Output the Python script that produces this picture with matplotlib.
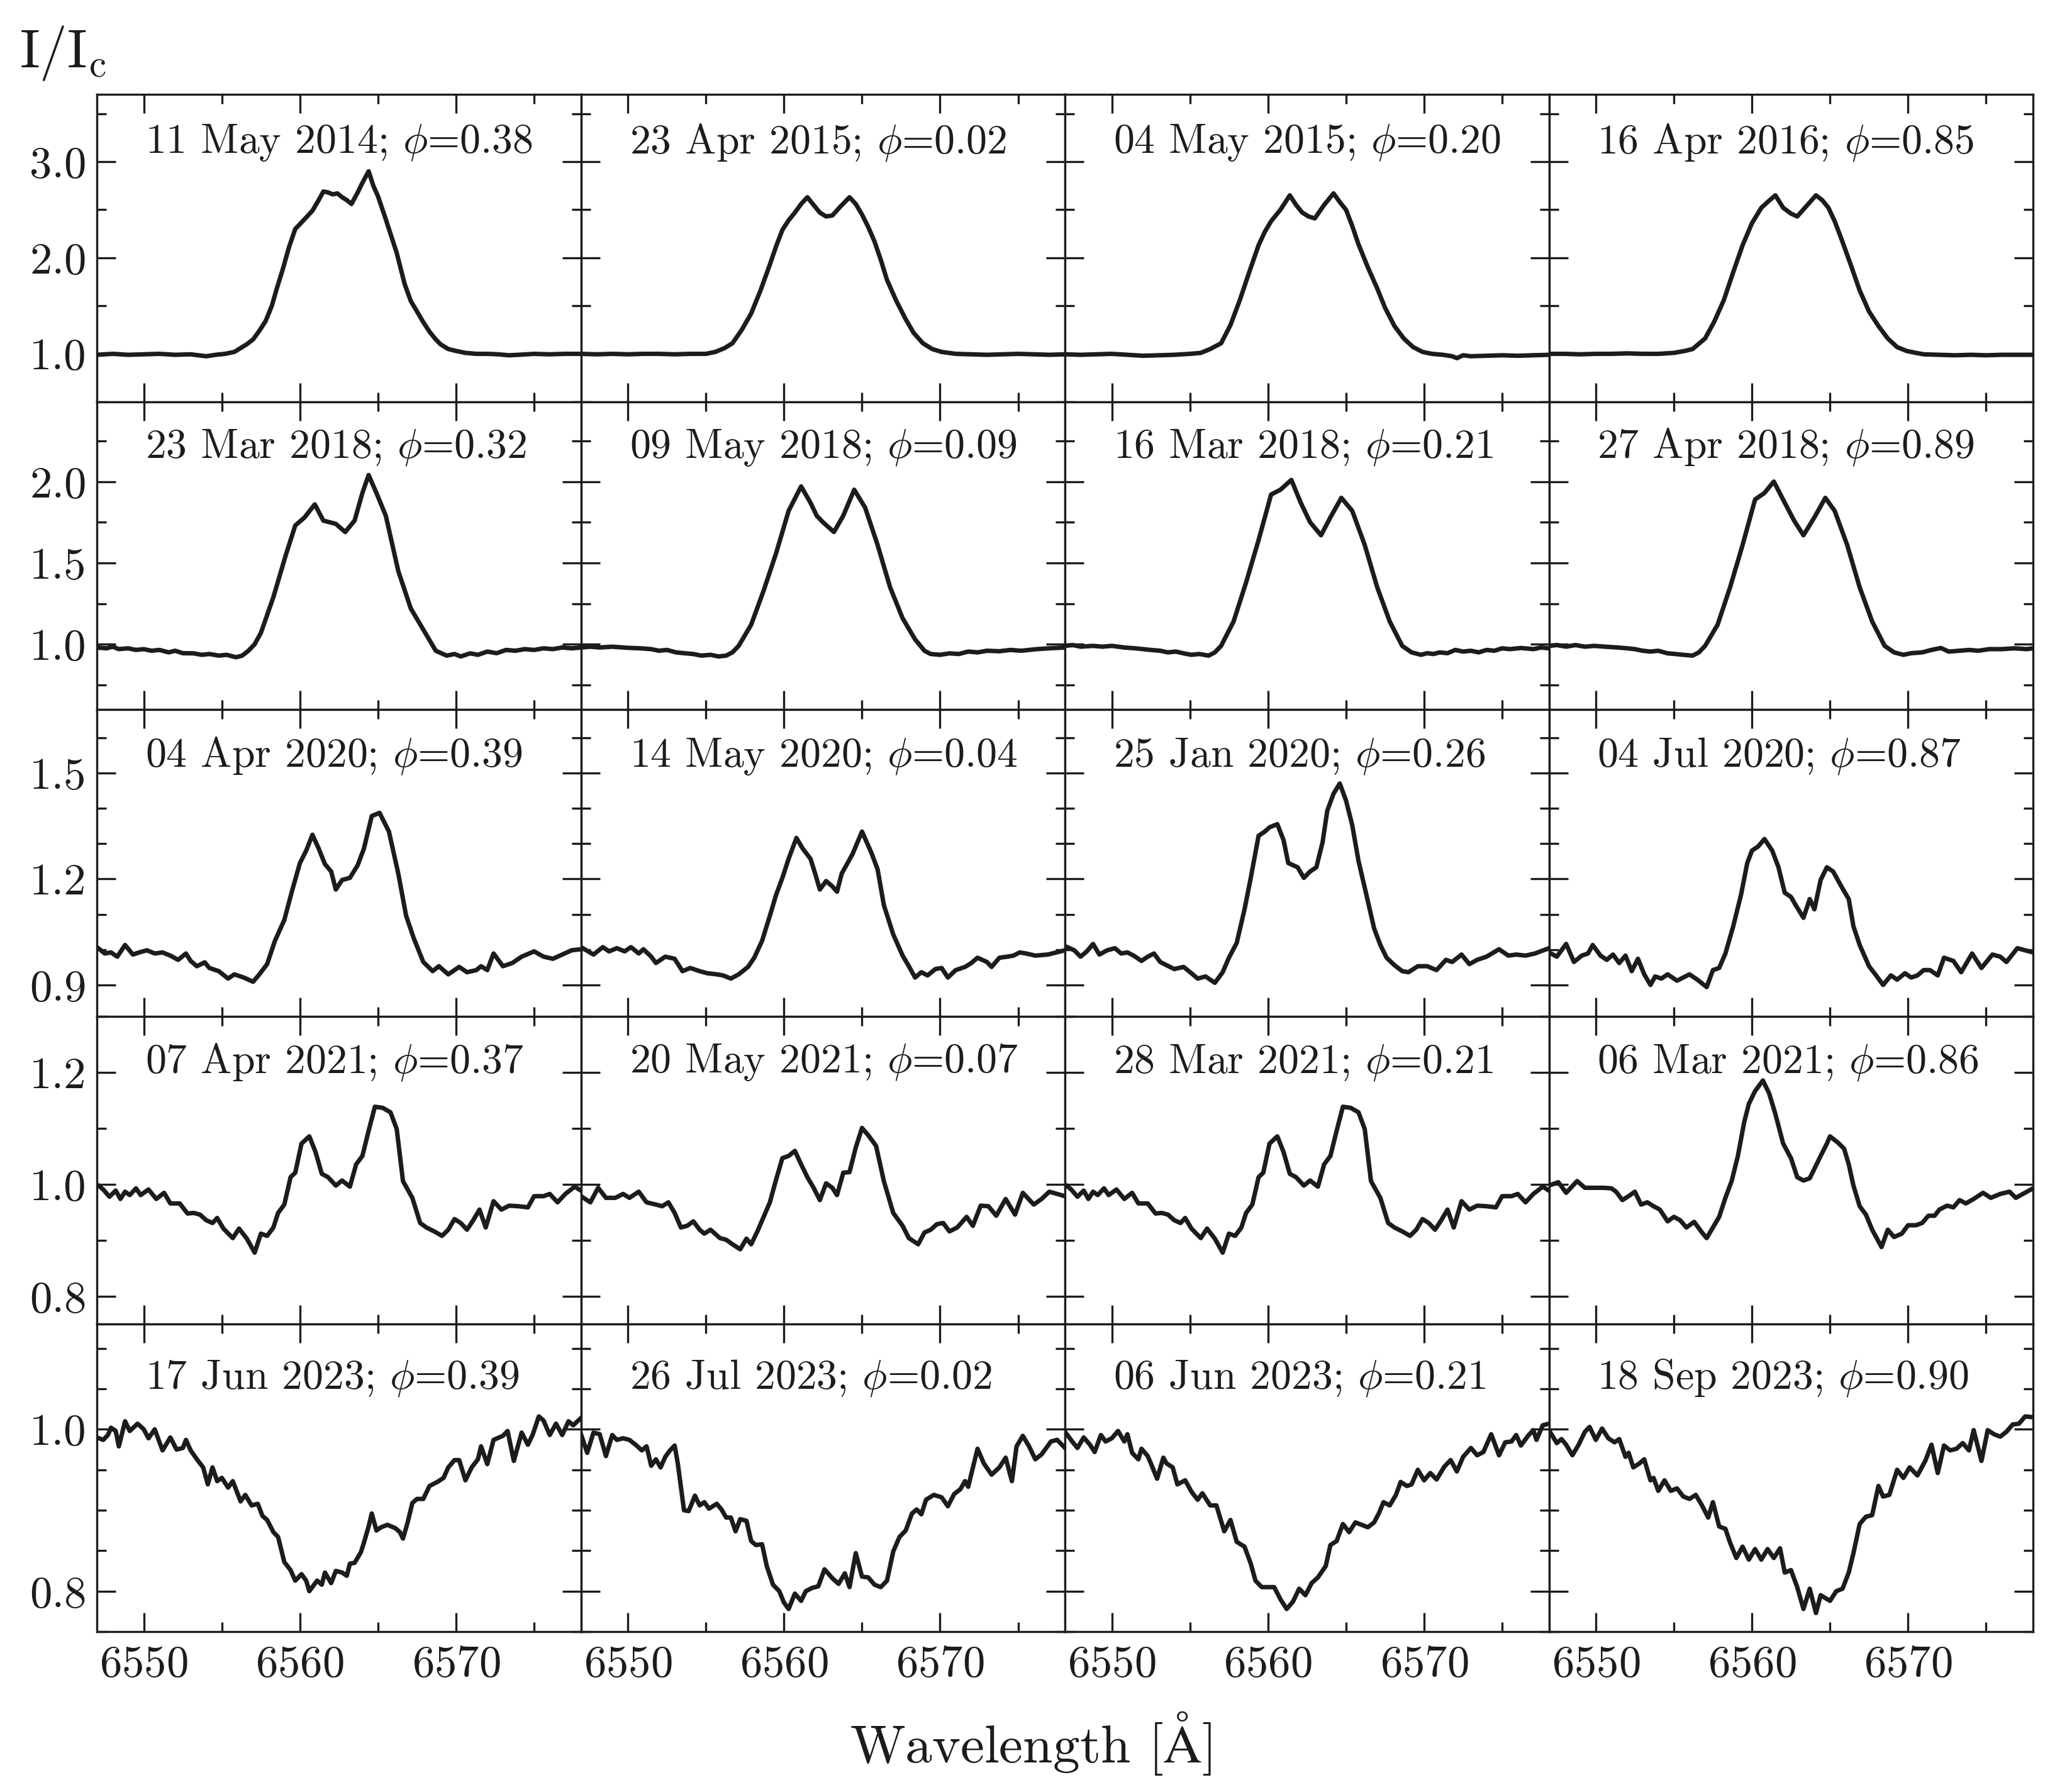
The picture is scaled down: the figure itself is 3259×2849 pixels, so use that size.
import numpy as np
import matplotlib
matplotlib.use("Agg")
import matplotlib.pyplot as plt
from matplotlib.ticker import MultipleLocator, FormatStrFormatter

plt.rcParams['font.family'] = 'serif'
plt.rcParams['font.serif'] = ['cmr10']
plt.rcParams['mathtext.fontset'] = 'cm'
plt.rcParams['axes.formatter.use_mathtext'] = True

# ---------------- data ----------------
# Row 1
w_11may2014 = [6547.0, 6548.0, 6549.0, 6550.0, 6551.0, 6552.0, 6553.0, 6554.0, 6554.6, 6555.2, 6555.8, 6556.2, 6556.6, 6557.0, 6557.4, 6557.8, 6558.2, 6558.5, 6558.9, 6559.3, 6559.7, 6560.0, 6560.4, 6560.8, 6561.2, 6561.5, 6561.8, 6562.1, 6562.4, 6562.7, 6563.0, 6563.3, 6563.7, 6564.0, 6564.4, 6564.7, 6565.0, 6565.5, 6565.8, 6566.2, 6566.7, 6567.1, 6567.5, 6567.9, 6568.3, 6568.7, 6569.0, 6569.5, 6570.0, 6570.6, 6571.3, 6572.0, 6572.7, 6573.4, 6574.0, 6575.0, 6576.0, 6577.0, 6578.0]
f_11may2014 = [0.99, 1.0, 0.99, 0.995, 1.0, 0.99, 0.995, 0.975, 0.99, 1.0, 1.02, 1.06, 1.10, 1.15, 1.24, 1.34, 1.50, 1.67, 1.88, 2.11, 2.30, 2.35, 2.42, 2.49, 2.60, 2.69, 2.68, 2.66, 2.67, 2.63, 2.60, 2.56, 2.68, 2.78, 2.90, 2.75, 2.64, 2.40, 2.25, 2.05, 1.73, 1.55, 1.44, 1.33, 1.23, 1.15, 1.10, 1.05, 1.03, 1.01, 1.0, 1.0, 0.995, 0.985, 0.99, 1.0, 0.995, 1.0, 1.0]

w_23apr2015 = [6547.0, 6548.0, 6549.0, 6550.0, 6551.0, 6552.0, 6553.0, 6554.0, 6555.0, 6555.6, 6556.2, 6556.7, 6557.3, 6557.9, 6558.5, 6559.1, 6559.5, 6559.9, 6560.3, 6560.7, 6561.1, 6561.5, 6561.9, 6562.3, 6562.7, 6563.1, 6563.6, 6564.2, 6564.6, 6565.0, 6565.4, 6565.8, 6566.2, 6566.6, 6567.2, 6567.8, 6568.3, 6568.9, 6569.5, 6570.1, 6571.0, 6572.0, 6573.0, 6574.0, 6575.0, 6576.0, 6577.0, 6578.0]
f_23apr2015 = [1.0, 0.995, 1.0, 0.995, 1.0, 1.0, 0.995, 1.0, 1.0, 1.02, 1.06, 1.11, 1.25, 1.42, 1.66, 1.93, 2.12, 2.29, 2.39, 2.47, 2.56, 2.63, 2.55, 2.47, 2.43, 2.44, 2.53, 2.63, 2.56, 2.45, 2.32, 2.17, 1.98, 1.77, 1.55, 1.36, 1.22, 1.11, 1.05, 1.02, 1.0, 0.995, 0.99, 0.995, 1.0, 0.995, 0.99, 0.995]

w_04may2015 = [6547.0, 6548.0, 6549.0, 6550.0, 6551.0, 6552.0, 6553.0, 6554.0, 6555.0, 6555.7, 6556.3, 6557.0, 6557.6, 6558.2, 6558.8, 6559.4, 6559.8, 6560.2, 6560.8, 6561.4, 6561.8, 6562.2, 6562.6, 6563.0, 6563.6, 6564.2, 6564.6, 6565.0, 6565.4, 6565.8, 6566.4, 6567.0, 6567.5, 6568.1, 6568.7, 6569.3, 6569.9, 6570.5, 6571.2, 6571.8, 6572.1, 6572.5, 6573.0, 6574.0, 6575.0, 6576.0, 6577.0, 6578.0]
f_04may2015 = [0.995, 0.99, 0.995, 1.0, 0.99, 0.98, 0.985, 0.99, 1.0, 1.01, 1.05, 1.11, 1.30, 1.56, 1.85, 2.13, 2.27, 2.38, 2.50, 2.65, 2.55, 2.47, 2.43, 2.41, 2.55, 2.67, 2.58, 2.50, 2.33, 2.14, 1.90, 1.68, 1.48, 1.29, 1.16, 1.07, 1.02, 1.0, 0.99, 0.975, 0.955, 0.985, 0.975, 0.98, 0.985, 0.98, 0.985, 0.99]

w_16apr2016 = [6547.0, 6548.0, 6549.0, 6550.0, 6551.0, 6552.0, 6553.0, 6554.0, 6555.0, 6555.7, 6556.2, 6557.0, 6557.6, 6558.2, 6558.8, 6559.4, 6560.0, 6560.6, 6561.0, 6561.5, 6562.0, 6562.5, 6562.9, 6563.5, 6564.1, 6564.5, 6564.9, 6565.3, 6565.7, 6566.3, 6566.9, 6567.5, 6568.1, 6568.7, 6569.3, 6569.9, 6570.5, 6571.0, 6572.0, 6573.0, 6574.0, 6575.0, 6576.0, 6577.0, 6578.0]
f_16apr2016 = [1.0, 1.0, 0.995, 1.0, 1.0, 1.005, 1.0, 1.0, 1.01, 1.03, 1.05, 1.16, 1.34, 1.56, 1.85, 2.13, 2.36, 2.52, 2.58, 2.65, 2.52, 2.46, 2.43, 2.54, 2.65, 2.60, 2.52, 2.38, 2.21, 1.94, 1.66, 1.44, 1.29, 1.16, 1.07, 1.03, 1.01, 0.995, 0.99, 0.985, 0.99, 0.985, 0.99, 0.99, 0.99]

# Row 2
w_23mar2018 = [6547.0, 6547.6, 6548.0, 6548.4, 6549.0, 6549.5, 6550.0, 6550.5, 6551.0, 6551.6, 6552.0, 6552.5, 6553.2, 6553.7, 6554.2, 6554.8, 6555.3, 6555.9, 6556.3, 6556.7, 6557.1, 6557.5, 6558.3, 6559.1, 6559.7, 6560.3, 6560.95, 6561.5, 6561.9, 6562.3, 6562.9, 6563.5, 6564.0, 6564.4, 6564.9, 6565.5, 6566.3, 6567.1, 6567.9, 6568.7, 6569.4, 6569.9, 6570.3, 6570.9, 6571.4, 6572.0, 6572.6, 6573.2, 6573.8, 6574.4, 6575.0, 6575.6, 6576.2, 6576.8, 6577.4, 6578.0]
f_23mar2018 = [0.98, 0.975, 0.985, 0.97, 0.975, 0.965, 0.97, 0.96, 0.965, 0.95, 0.96, 0.945, 0.944, 0.935, 0.94, 0.93, 0.935, 0.92, 0.93, 0.96, 1.0, 1.07, 1.29, 1.55, 1.73, 1.78, 1.86, 1.76, 1.75, 1.74, 1.69, 1.76, 1.93, 2.04, 1.93, 1.79, 1.45, 1.22, 1.09, 0.96, 0.93, 0.94, 0.925, 0.944, 0.935, 0.955, 0.945, 0.965, 0.96, 0.97, 0.965, 0.975, 0.97, 0.98, 0.975, 0.98]

w_09may2018 = [6547.0, 6547.6, 6548.2, 6549.0, 6550.0, 6550.8, 6551.5, 6552.0, 6552.5, 6553.1, 6553.6, 6554.2, 6554.7, 6555.3, 6555.8, 6556.3, 6556.7, 6557.1, 6557.9, 6558.7, 6559.5, 6560.3, 6561.1, 6561.7, 6562.1, 6562.5, 6563.2, 6563.8, 6564.5, 6565.2, 6566.0, 6566.8, 6567.6, 6568.4, 6569.0, 6569.4, 6570.0, 6570.6, 6571.2, 6571.8, 6572.4, 6573.0, 6573.8, 6574.5, 6575.2, 6576.2, 6577.0, 6578.0]
f_09may2018 = [0.98, 0.985, 0.98, 0.985, 0.978, 0.975, 0.97, 0.96, 0.965, 0.95, 0.945, 0.94, 0.93, 0.935, 0.925, 0.93, 0.95, 0.99, 1.12, 1.33, 1.56, 1.82, 1.97, 1.87, 1.79, 1.75, 1.69, 1.79, 1.95, 1.84, 1.61, 1.35, 1.16, 1.03, 0.96, 0.94, 0.935, 0.944, 0.94, 0.955, 0.95, 0.96, 0.957, 0.965, 0.96, 0.97, 0.975, 0.98]

w_16mar2018 = [6547.0, 6547.5, 6548.0, 6548.8, 6549.4, 6550.0, 6550.8, 6551.5, 6552.0, 6552.5, 6553.1, 6553.6, 6554.1, 6554.6, 6555.1, 6555.6, 6556.2, 6556.6, 6557.0, 6557.8, 6558.6, 6559.4, 6560.2, 6560.8, 6561.5, 6562.1, 6562.7, 6563.4, 6564.0, 6564.7, 6565.4, 6566.2, 6567.0, 6567.8, 6568.6, 6569.2, 6569.8, 6570.2, 6570.6, 6571.0, 6571.5, 6572.0, 6572.5, 6573.0, 6573.5, 6574.0, 6574.5, 6575.0, 6575.5, 6576.2, 6577.0, 6577.5, 6578.0]
f_16mar2018 = [0.99, 0.995, 0.985, 0.99, 0.985, 0.99, 0.98, 0.975, 0.97, 0.965, 0.96, 0.95, 0.955, 0.944, 0.935, 0.94, 0.93, 0.95, 0.99, 1.14, 1.38, 1.64, 1.92, 1.95, 2.01, 1.87, 1.75, 1.67, 1.78, 1.90, 1.82, 1.61, 1.35, 1.14, 0.99, 0.95, 0.935, 0.945, 0.94, 0.95, 0.945, 0.965, 0.955, 0.96, 0.95, 0.965, 0.96, 0.975, 0.97, 0.977, 0.97, 0.98, 0.975]

w_27apr2018 = [6547.0, 6547.5, 6548.1, 6548.7, 6549.3, 6549.9, 6550.6, 6551.4, 6552.0, 6552.5, 6553.0, 6553.5, 6554.0, 6554.6, 6555.1, 6555.6, 6556.2, 6556.6, 6557.0, 6557.8, 6558.6, 6559.4, 6560.2, 6560.8, 6561.4, 6562.1, 6562.7, 6563.3, 6564.0, 6564.7, 6565.3, 6566.1, 6566.9, 6567.7, 6568.5, 6569.1, 6569.7, 6570.2, 6570.9, 6571.5, 6572.1, 6572.6, 6573.3, 6573.9, 6574.5, 6575.2, 6576.0, 6576.8, 6577.6, 6578.0]
f_27apr2018 = [0.99, 0.995, 0.985, 0.995, 0.985, 0.99, 0.985, 0.98, 0.975, 0.97, 0.96, 0.955, 0.96, 0.944, 0.94, 0.935, 0.93, 0.95, 0.99, 1.12, 1.35, 1.61, 1.89, 1.93, 2.0, 1.87, 1.76, 1.67, 1.78, 1.90, 1.82, 1.61, 1.35, 1.14, 0.99, 0.95, 0.935, 0.945, 0.95, 0.965, 0.977, 0.955, 0.96, 0.965, 0.96, 0.97, 0.97, 0.975, 0.97, 0.975]

# Row 3
w_04apr2020 = [6547.0, 6547.5, 6547.9, 6548.3, 6548.8, 6549.3, 6549.7, 6550.2, 6550.7, 6551.2, 6551.7, 6552.2, 6552.7, 6553.0, 6553.4, 6553.9, 6554.2, 6554.8, 6555.4, 6555.8, 6556.4, 6557.0, 6557.4, 6557.9, 6558.4, 6559.0, 6559.5, 6560.0, 6560.4, 6560.8, 6561.2, 6561.6, 6562.0, 6562.3, 6562.7, 6563.2, 6563.7, 6564.1, 6564.6, 6565.1, 6565.7, 6566.3, 6566.8, 6567.3, 6567.9, 6568.5, 6568.9, 6569.5, 6570.2, 6570.7, 6571.3, 6571.6, 6572.0, 6572.4, 6573.0, 6573.6, 6574.2, 6575.0, 6575.6, 6576.2, 6576.8, 6577.4, 6578.0]
f_04apr2020 = [1.007, 0.989, 0.992, 0.980, 1.013, 0.986, 0.992, 0.998, 0.989, 0.992, 0.983, 0.971, 0.989, 0.968, 0.953, 0.964, 0.948, 0.939, 0.918, 0.930, 0.921, 0.909, 0.930, 0.959, 1.025, 1.084, 1.167, 1.245, 1.280, 1.325, 1.286, 1.242, 1.221, 1.170, 1.197, 1.203, 1.239, 1.286, 1.378, 1.387, 1.334, 1.215, 1.096, 1.031, 0.965, 0.939, 0.953, 0.930, 0.951, 0.936, 0.942, 0.953, 0.942, 0.989, 0.953, 0.962, 0.980, 0.995, 0.980, 0.974, 0.986, 0.998, 1.001]

w_14may2020 = [6547.0, 6547.8, 6548.4, 6548.8, 6549.3, 6549.8, 6550.2, 6550.7, 6551.0, 6551.5, 6551.8, 6552.4, 6553.0, 6553.5, 6554.0, 6554.6, 6555.1, 6555.7, 6556.1, 6556.6, 6557.1, 6557.7, 6558.1, 6558.6, 6559.1, 6559.5, 6559.9, 6560.3, 6560.8, 6561.2, 6561.7, 6562.0, 6562.3, 6562.7, 6563.1, 6563.4, 6563.7, 6564.0, 6564.4, 6565.0, 6565.6, 6566.0, 6566.4, 6567.0, 6567.6, 6568.0, 6568.4, 6568.8, 6569.2, 6569.7, 6570.1, 6570.5, 6571.0, 6571.6, 6572.0, 6572.4, 6573.0, 6573.3, 6573.8, 6574.3, 6574.7, 6575.1, 6575.5, 6576.1, 6576.9, 6578.0]
f_14may2020 = [1.007, 0.986, 1.007, 0.995, 1.004, 0.995, 1.007, 0.989, 1.001, 0.980, 0.962, 0.980, 0.974, 0.939, 0.948, 0.939, 0.933, 0.930, 0.927, 0.918, 0.930, 0.951, 0.977, 1.025, 1.096, 1.155, 1.203, 1.257, 1.316, 1.286, 1.257, 1.215, 1.170, 1.194, 1.179, 1.164, 1.215, 1.239, 1.271, 1.334, 1.274, 1.227, 1.126, 1.043, 0.983, 0.953, 0.921, 0.936, 0.927, 0.945, 0.948, 0.921, 0.942, 0.951, 0.962, 0.977, 0.965, 0.951, 0.977, 0.980, 0.983, 0.992, 0.989, 0.983, 0.986, 0.998]

w_25jan2020 = [6547.0, 6547.6, 6548.0, 6548.4, 6548.8, 6549.2, 6549.7, 6550.2, 6550.6, 6551.0, 6551.4, 6551.9, 6552.3, 6552.7, 6553.1, 6553.5, 6554.0, 6554.6, 6555.1, 6555.5, 6556.0, 6556.6, 6557.1, 6557.5, 6558.0, 6558.5, 6558.9, 6559.4, 6559.8, 6560.1, 6560.6, 6561.0, 6561.3, 6561.9, 6562.3, 6562.7, 6563.1, 6563.5, 6563.8, 6564.2, 6564.6, 6565.0, 6565.4, 6565.8, 6566.3, 6566.8, 6567.2, 6567.6, 6568.1, 6568.6, 6569.0, 6569.6, 6570.2, 6570.8, 6571.4, 6571.8, 6572.4, 6572.9, 6573.4, 6574.0, 6574.8, 6575.4, 6575.9, 6576.5, 6577.1, 6578.0]
f_25jan2020 = [1.010, 0.998, 0.980, 0.995, 1.016, 0.986, 0.998, 1.004, 0.989, 0.992, 0.983, 0.968, 0.980, 0.989, 0.965, 0.956, 0.945, 0.951, 0.933, 0.918, 0.924, 0.906, 0.936, 0.977, 1.019, 1.114, 1.203, 1.322, 1.334, 1.346, 1.355, 1.310, 1.245, 1.233, 1.203, 1.221, 1.233, 1.304, 1.393, 1.441, 1.470, 1.422, 1.352, 1.251, 1.156, 1.060, 1.013, 0.977, 0.956, 0.939, 0.936, 0.953, 0.953, 0.942, 0.971, 0.965, 0.986, 0.959, 0.971, 0.980, 1.001, 0.983, 0.986, 0.983, 0.989, 1.004]

w_04jul2020 = [6547.0, 6547.5, 6548.1, 6548.6, 6549.1, 6549.5, 6549.8, 6550.3, 6550.7, 6551.1, 6551.5, 6551.9, 6552.3, 6552.7, 6553.1, 6553.5, 6553.8, 6554.2, 6554.6, 6555.2, 6555.6, 6556.0, 6556.5, 6557.1, 6557.5, 6557.9, 6558.3, 6558.8, 6559.3, 6559.7, 6560.0, 6560.4, 6560.8, 6561.3, 6561.7, 6562.1, 6562.5, 6562.8, 6563.3, 6563.7, 6564.0, 6564.4, 6564.8, 6565.2, 6565.8, 6566.2, 6566.5, 6566.9, 6567.5, 6567.9, 6568.4, 6568.9, 6569.3, 6569.8, 6570.2, 6570.6, 6571.0, 6571.4, 6571.9, 6572.3, 6572.9, 6573.4, 6574.1, 6574.7, 6575.4, 6575.9, 6576.3, 6577.0, 6578.0]
f_04jul2020 = [0.992, 0.980, 1.016, 0.965, 0.983, 0.989, 1.013, 0.983, 0.971, 0.986, 0.962, 0.983, 0.939, 0.974, 0.930, 0.900, 0.924, 0.918, 0.930, 0.912, 0.921, 0.930, 0.915, 0.894, 0.942, 0.948, 0.989, 1.066, 1.155, 1.245, 1.280, 1.292, 1.313, 1.280, 1.233, 1.161, 1.149, 1.126, 1.090, 1.143, 1.114, 1.197, 1.233, 1.221, 1.173, 1.143, 1.066, 1.013, 0.953, 0.930, 0.900, 0.927, 0.915, 0.933, 0.921, 0.927, 0.942, 0.942, 0.927, 0.977, 0.968, 0.936, 0.989, 0.948, 0.986, 0.980, 0.965, 1.004, 0.992]

# Row 4
w_07apr2021 = [6547.0, 6547.4, 6547.8, 6548.2, 6548.5, 6548.8, 6549.1, 6549.5, 6549.8, 6550.3, 6550.8, 6551.3, 6551.7, 6552.3, 6552.8, 6553.2, 6553.6, 6554.0, 6554.4, 6554.7, 6555.1, 6555.7, 6556.1, 6556.6, 6557.1, 6557.5, 6557.9, 6558.3, 6558.6, 6559.0, 6559.4, 6559.7, 6560.1, 6560.6, 6561.0, 6561.4, 6561.8, 6562.3, 6562.7, 6563.2, 6563.6, 6564.0, 6564.4, 6564.8, 6565.3, 6565.8, 6566.2, 6566.6, 6567.2, 6567.7, 6568.1, 6568.6, 6569.1, 6569.5, 6569.9, 6570.3, 6570.7, 6571.1, 6571.5, 6571.9, 6572.4, 6572.9, 6573.4, 6574.0, 6574.6, 6575.0, 6575.6, 6576.0, 6576.5, 6577.0, 6577.6, 6578.0]
f_07apr2021 = [1.000, 0.991, 0.978, 0.989, 0.974, 0.987, 0.981, 0.993, 0.981, 0.991, 0.974, 0.985, 0.966, 0.966, 0.948, 0.949, 0.946, 0.936, 0.931, 0.940, 0.921, 0.904, 0.921, 0.903, 0.878, 0.912, 0.908, 0.923, 0.949, 0.964, 1.013, 1.021, 1.073, 1.086, 1.058, 1.019, 1.013, 0.998, 1.007, 0.996, 1.036, 1.051, 1.096, 1.139, 1.137, 1.129, 1.099, 1.006, 0.976, 0.931, 0.923, 0.916, 0.908, 0.919, 0.938, 0.931, 0.919, 0.936, 0.955, 0.923, 0.970, 0.955, 0.962, 0.961, 0.959, 0.979, 0.979, 0.983, 0.968, 0.983, 0.996, 0.989]

w_20may2021 = [6547.0, 6547.6, 6548.1, 6548.6, 6549.2, 6549.7, 6550.1, 6550.7, 6551.2, 6551.8, 6552.2, 6552.6, 6553.0, 6553.4, 6553.8, 6554.2, 6554.6, 6554.9, 6555.3, 6555.9, 6556.3, 6556.7, 6557.2, 6557.6, 6557.9, 6558.3, 6558.7, 6559.1, 6559.5, 6559.9, 6560.3, 6560.7, 6561.1, 6561.5, 6561.9, 6562.3, 6562.7, 6563.1, 6563.4, 6563.8, 6564.2, 6564.6, 6565.0, 6565.4, 6565.9, 6566.4, 6567.0, 6567.6, 6568.0, 6568.6, 6569.0, 6569.4, 6569.8, 6570.2, 6570.6, 6571.1, 6571.7, 6572.1, 6572.6, 6573.1, 6573.6, 6574.2, 6574.8, 6575.3, 6576.0, 6576.5, 6577.0, 6578.0]
f_20may2021 = [0.979, 0.968, 0.994, 0.976, 0.976, 0.983, 0.976, 0.987, 0.968, 0.964, 0.961, 0.968, 0.949, 0.923, 0.926, 0.934, 0.919, 0.912, 0.919, 0.904, 0.901, 0.893, 0.884, 0.903, 0.893, 0.916, 0.942, 0.968, 1.009, 1.047, 1.051, 1.060, 1.036, 1.013, 0.994, 0.972, 1.002, 0.994, 0.981, 1.021, 1.022, 1.066, 1.101, 1.088, 1.069, 1.006, 0.949, 0.926, 0.904, 0.893, 0.914, 0.919, 0.929, 0.931, 0.916, 0.923, 0.942, 0.926, 0.962, 0.961, 0.944, 0.974, 0.946, 0.985, 0.964, 0.974, 0.987, 0.979]

w_28mar2021 = list(w_07apr2021)
f_28mar2021 = [1.000, 0.991, 0.978, 0.989, 0.974, 0.987, 0.981, 0.993, 0.981, 0.991, 0.974, 0.985, 0.966, 0.966, 0.948, 0.949, 0.946, 0.936, 0.931, 0.940, 0.921, 0.904, 0.921, 0.903, 0.878, 0.912, 0.908, 0.923, 0.949, 0.964, 1.013, 1.021, 1.073, 1.086, 1.058, 1.019, 1.013, 0.998, 1.007, 0.996, 1.036, 1.051, 1.096, 1.139, 1.137, 1.129, 1.099, 1.006, 0.976, 0.931, 0.923, 0.916, 0.908, 0.919, 0.938, 0.931, 0.919, 0.936, 0.955, 0.923, 0.970, 0.955, 0.962, 0.961, 0.959, 0.979, 0.979, 0.983, 0.968, 0.983, 0.996, 0.989]

w_06mar2021 = [6547.0, 6547.6, 6548.1, 6548.4, 6548.8, 6549.3, 6549.9, 6550.5, 6551.0, 6551.3, 6551.7, 6552.1, 6552.5, 6552.9, 6553.3, 6553.7, 6554.1, 6554.6, 6555.0, 6555.4, 6555.8, 6556.3, 6556.8, 6557.1, 6557.5, 6557.9, 6558.3, 6558.7, 6559.1, 6559.5, 6559.8, 6560.2, 6560.7, 6561.1, 6561.5, 6562.0, 6562.5, 6562.9, 6563.3, 6563.7, 6564.0, 6564.4, 6564.8, 6565.0, 6565.5, 6565.9, 6566.2, 6566.5, 6566.9, 6567.3, 6567.7, 6568.3, 6568.7, 6569.1, 6569.6, 6570.0, 6570.5, 6570.9, 6571.3, 6571.7, 6572.0, 6572.5, 6572.9, 6573.3, 6573.7, 6574.2, 6574.8, 6575.3, 6575.9, 6576.5, 6576.9, 6578.0]
f_06mar2021 = [0.998, 1.004, 0.985, 0.994, 1.006, 0.994, 0.994, 0.994, 0.993, 0.987, 0.972, 0.979, 0.987, 0.964, 0.968, 0.961, 0.955, 0.934, 0.942, 0.936, 0.923, 0.933, 0.914, 0.904, 0.923, 0.942, 0.976, 1.006, 1.051, 1.111, 1.144, 1.167, 1.186, 1.163, 1.126, 1.073, 1.047, 1.013, 1.007, 1.011, 1.028, 1.051, 1.073, 1.086, 1.075, 1.064, 1.036, 0.998, 0.961, 0.946, 0.919, 0.888, 0.919, 0.906, 0.912, 0.927, 0.927, 0.931, 0.944, 0.944, 0.955, 0.962, 0.959, 0.972, 0.966, 0.974, 0.985, 0.976, 0.983, 0.987, 0.976, 0.993]

# Row 5
w_17jun2023 = [6547.0, 6547.4, 6547.7, 6547.9, 6548.2, 6548.4, 6548.8, 6549.1, 6549.6, 6550.0, 6550.3, 6550.7, 6551.2, 6551.7, 6552.1, 6552.5, 6552.7, 6553.0, 6553.4, 6553.8, 6554.1, 6554.4, 6554.7, 6555.0, 6555.4, 6555.7, 6556.2, 6556.5, 6556.9, 6557.3, 6557.6, 6557.9, 6558.3, 6558.6, 6559.0, 6559.4, 6559.7, 6560.1, 6560.4, 6560.6, 6561.1, 6561.4, 6561.6, 6562.0, 6562.3, 6562.7, 6563.0, 6563.2, 6563.5, 6563.9, 6564.1, 6564.4, 6564.6, 6564.9, 6565.2, 6565.6, 6566.1, 6566.4, 6566.6, 6566.9, 6567.2, 6567.5, 6567.9, 6568.3, 6568.8, 6569.2, 6569.5, 6569.9, 6570.2, 6570.6, 6571.0, 6571.4, 6571.6, 6572.0, 6572.4, 6573.0, 6573.3, 6573.7, 6574.2, 6574.6, 6574.9, 6575.3, 6575.6, 6576.0, 6576.4, 6576.8, 6577.2, 6577.5, 6578.0]
f_17jun2023 = [0.990, 0.987, 0.993, 1.002, 0.998, 0.979, 1.010, 0.998, 1.007, 1.000, 0.989, 1.000, 0.974, 0.990, 0.975, 0.977, 0.987, 0.974, 0.963, 0.953, 0.932, 0.953, 0.936, 0.940, 0.928, 0.936, 0.911, 0.919, 0.906, 0.908, 0.893, 0.888, 0.873, 0.867, 0.836, 0.826, 0.813, 0.821, 0.813, 0.800, 0.813, 0.808, 0.823, 0.810, 0.825, 0.823, 0.819, 0.834, 0.835, 0.848, 0.860, 0.880, 0.896, 0.875, 0.879, 0.882, 0.878, 0.873, 0.865, 0.885, 0.909, 0.914, 0.914, 0.930, 0.935, 0.940, 0.953, 0.962, 0.962, 0.937, 0.953, 0.963, 0.979, 0.957, 0.987, 0.992, 0.998, 0.961, 0.996, 0.981, 0.993, 1.016, 1.011, 0.993, 1.007, 0.993, 1.010, 1.005, 1.014]

w_26jul2023 = [6547.0, 6547.4, 6547.8, 6548.2, 6548.6, 6549.0, 6549.3, 6549.7, 6550.1, 6550.5, 6550.9, 6551.2, 6551.5, 6551.8, 6552.1, 6552.4, 6552.7, 6553.0, 6553.2, 6553.6, 6553.9, 6554.3, 6554.6, 6554.9, 6555.2, 6555.7, 6556.0, 6556.3, 6556.6, 6556.9, 6557.2, 6557.6, 6557.9, 6558.2, 6558.6, 6558.9, 6559.3, 6559.7, 6560.0, 6560.3, 6560.7, 6561.1, 6561.4, 6561.8, 6562.2, 6562.6, 6563.1, 6563.5, 6563.9, 6564.2, 6564.6, 6565.0, 6565.4, 6565.8, 6566.2, 6566.6, 6567.0, 6567.4, 6567.8, 6568.2, 6568.5, 6568.8, 6569.1, 6569.6, 6570.1, 6570.5, 6570.9, 6571.3, 6571.6, 6571.8, 6572.4, 6572.8, 6573.3, 6573.8, 6574.2, 6574.6, 6574.9, 6575.3, 6575.7, 6576.1, 6576.5, 6577.1, 6577.5, 6578.0]
f_26jul2023 = [0.994, 0.971, 0.996, 0.994, 0.967, 0.993, 0.987, 0.989, 0.987, 0.981, 0.974, 0.979, 0.955, 0.963, 0.953, 0.966, 0.974, 0.980, 0.958, 0.900, 0.899, 0.918, 0.906, 0.910, 0.902, 0.908, 0.901, 0.891, 0.891, 0.874, 0.889, 0.887, 0.862, 0.857, 0.858, 0.831, 0.808, 0.800, 0.786, 0.778, 0.797, 0.788, 0.800, 0.804, 0.806, 0.827, 0.816, 0.809, 0.822, 0.805, 0.847, 0.818, 0.817, 0.808, 0.805, 0.813, 0.849, 0.867, 0.875, 0.896, 0.901, 0.895, 0.913, 0.919, 0.916, 0.905, 0.920, 0.926, 0.936, 0.929, 0.976, 0.958, 0.944, 0.953, 0.965, 0.936, 0.979, 0.992, 0.979, 0.963, 0.969, 0.985, 0.987, 0.977]

w_06jun2023 = [6547.0, 6547.5, 6547.8, 6548.2, 6548.6, 6548.9, 6549.3, 6549.6, 6550.0, 6550.4, 6550.8, 6551.0, 6551.3, 6551.7, 6551.9, 6552.3, 6552.5, 6552.9, 6553.3, 6553.5, 6553.9, 6554.2, 6554.7, 6555.1, 6555.5, 6555.8, 6556.3, 6556.7, 6557.2, 6557.6, 6558.0, 6558.5, 6558.9, 6559.2, 6559.6, 6560.0, 6560.4, 6560.8, 6561.2, 6561.6, 6562.0, 6562.4, 6562.8, 6563.2, 6563.7, 6564.0, 6564.4, 6564.8, 6565.2, 6565.6, 6566.0, 6566.4, 6566.8, 6567.1, 6567.4, 6567.8, 6568.2, 6568.5, 6568.9, 6569.2, 6569.6, 6570.0, 6570.4, 6570.8, 6571.3, 6571.7, 6572.1, 6572.5, 6573.0, 6573.4, 6573.8, 6574.3, 6574.8, 6575.2, 6575.6, 6575.9, 6576.2, 6576.7, 6577.0, 6577.2, 6577.6, 6578.0]
f_06jun2023 = [0.997, 0.984, 0.977, 0.990, 0.981, 0.972, 0.993, 0.985, 0.989, 0.998, 0.985, 0.994, 0.971, 0.963, 0.976, 0.967, 0.958, 0.939, 0.965, 0.958, 0.953, 0.932, 0.937, 0.923, 0.913, 0.921, 0.906, 0.906, 0.874, 0.888, 0.861, 0.855, 0.834, 0.813, 0.805, 0.805, 0.805, 0.790, 0.778, 0.787, 0.803, 0.795, 0.810, 0.817, 0.831, 0.857, 0.862, 0.883, 0.873, 0.885, 0.882, 0.879, 0.885, 0.896, 0.910, 0.906, 0.919, 0.935, 0.930, 0.932, 0.950, 0.937, 0.946, 0.938, 0.954, 0.962, 0.948, 0.966, 0.977, 0.968, 0.972, 0.994, 0.968, 0.984, 0.985, 0.993, 0.980, 0.993, 0.999, 0.987, 1.005, 1.007]

w_18sep2023 = [6547.0, 6547.5, 6547.8, 6548.1, 6548.5, 6548.9, 6549.3, 6549.6, 6550.0, 6550.4, 6550.8, 6551.2, 6551.5, 6551.9, 6552.1, 6552.4, 6552.8, 6553.1, 6553.5, 6553.7, 6554.0, 6554.4, 6554.8, 6555.2, 6555.6, 6556.0, 6556.4, 6556.8, 6557.2, 6557.5, 6557.9, 6558.3, 6558.6, 6559.0, 6559.4, 6559.8, 6560.2, 6560.6, 6561.0, 6561.4, 6561.8, 6562.1, 6562.5, 6562.9, 6563.3, 6563.7, 6564.1, 6564.4, 6565.0, 6565.4, 6565.8, 6566.2, 6566.5, 6566.9, 6567.3, 6567.7, 6568.1, 6568.4, 6568.8, 6569.3, 6569.7, 6570.1, 6570.6, 6571.1, 6571.5, 6571.9, 6572.3, 6572.7, 6573.1, 6573.5, 6573.9, 6574.2, 6574.7, 6575.1, 6575.5, 6575.9, 6576.3, 6576.7, 6577.1, 6577.5, 6578.0]
f_18sep2023 = [0.999, 0.983, 0.988, 0.981, 0.968, 0.981, 0.997, 1.003, 0.987, 1.001, 0.989, 0.984, 0.988, 0.966, 0.971, 0.953, 0.958, 0.963, 0.937, 0.940, 0.924, 0.937, 0.924, 0.927, 0.917, 0.914, 0.919, 0.906, 0.891, 0.910, 0.880, 0.877, 0.860, 0.841, 0.855, 0.839, 0.852, 0.839, 0.852, 0.841, 0.853, 0.823, 0.826, 0.805, 0.778, 0.803, 0.773, 0.795, 0.788, 0.800, 0.803, 0.823, 0.847, 0.883, 0.892, 0.894, 0.930, 0.917, 0.919, 0.950, 0.940, 0.953, 0.943, 0.961, 0.981, 0.946, 0.980, 0.974, 0.976, 0.983, 0.974, 0.999, 0.961, 0.999, 0.994, 0.991, 0.997, 1.006, 1.007, 1.016, 1.015]

dates = [["11 May 2014", "23 Apr 2015", "04 May 2015", "16 Apr 2016"],
         ["23 Mar 2018", "09 May 2018", "16 Mar 2018", "27 Apr 2018"],
         ["04 Apr 2020", "14 May 2020", "25 Jan 2020", "04 Jul 2020"],
         ["07 Apr 2021", "20 May 2021", "28 Mar 2021", "06 Mar 2021"],
         ["17 Jun 2023", "26 Jul 2023", "06 Jun 2023", "18 Sep 2023"]]
phases = [["0.38", "0.02", "0.20", "0.85"],
          ["0.32", "0.09", "0.21", "0.89"],
          ["0.39", "0.04", "0.26", "0.87"],
          ["0.37", "0.07", "0.21", "0.86"],
          ["0.39", "0.02", "0.21", "0.90"]]
waves = [[w_11may2014, w_23apr2015, w_04may2015, w_16apr2016],
         [w_23mar2018, w_09may2018, w_16mar2018, w_27apr2018],
         [w_04apr2020, w_14may2020, w_25jan2020, w_04jul2020],
         [w_07apr2021, w_20may2021, w_28mar2021, w_06mar2021],
         [w_17jun2023, w_26jul2023, w_06jun2023, w_18sep2023]]
fluxes = [[f_11may2014, f_23apr2015, f_04may2015, f_16apr2016],
          [f_23mar2018, f_09may2018, f_16mar2018, f_27apr2018],
          [f_04apr2020, f_14may2020, f_25jan2020, f_04jul2020],
          [f_07apr2021, f_20may2021, f_28mar2021, f_06mar2021],
          [f_17jun2023, f_26jul2023, f_06jun2023, f_18sep2023]]

row_ylims = [(0.5, 3.7), (0.6, 2.49), (0.81, 1.68), (0.75, 1.30), (0.75, 1.13)]
row_major = [1.0, 0.5, 0.3, 0.2, 0.2]
row_minor = [0.5, 0.25, 0.1, 0.1, 0.05]
row_text_y = [0.81, 0.818, 0.814, 0.818, 0.79]
xlim = (6547, 6578)

# ---------------- figure ----------------
fig = plt.figure(figsize=(3259 / 300, 2849 / 300), dpi=300)
gs = fig.add_gridspec(5, 4, left=0.0473, right=0.9917, top=0.9473, bottom=0.0895,
                      hspace=0, wspace=0)

line_color = '#1c1c1c'
for r in range(5):
    for c in range(4):
        ax = fig.add_subplot(gs[r, c])
        ax.plot(waves[r][c], fluxes[r][c], color=line_color, lw=1.7,
                solid_joinstyle='round')
        ax.set_xlim(*xlim)
        ax.set_ylim(*row_ylims[r])
        ax.xaxis.set_major_locator(MultipleLocator(10))
        ax.xaxis.set_minor_locator(MultipleLocator(5))
        ax.yaxis.set_major_locator(MultipleLocator(row_major[r]))
        ax.yaxis.set_minor_locator(MultipleLocator(row_minor[r]))
        ax.yaxis.set_major_formatter(FormatStrFormatter('%.1f'))
        ax.tick_params(which='both', direction='in', top=True, right=True,
                       width=0.8, colors='#1c1c1c', labelcolor='#1c1c1c')
        ax.tick_params(which='major', length=7.2, labelsize=17, pad=4)
        ax.tick_params(which='minor', length=3.6)
        ax.tick_params(axis='x', which='major', pad=5)
        ax.tick_params(labelleft=(c == 0), labelbottom=(r == 4))
        for s in ax.spines.values():
            s.set_linewidth(0.8)
            s.set_color('#1c1c1c')
        ax.text(0.1, row_text_y[r], dates[r][c] + r"; $\phi$=" + phases[r][c],
                transform=ax.transAxes, ha='left', va='baseline', fontsize=15.8,
                color='#1c1c1c')

fig.text(0.5027, 1 - 2802 / 2849, r'Wavelength [$\mathrm{\AA}$]',
         ha='center', va='baseline', fontsize=20.5, color='#1c1c1c')
fig.text(0.0095, 1 - 107 / 2849, r'$\mathrm{I/I_c}$', ha='left', va='baseline',
         fontsize=21, color='#1c1c1c')

fig.savefig('out.png', dpi=300)
